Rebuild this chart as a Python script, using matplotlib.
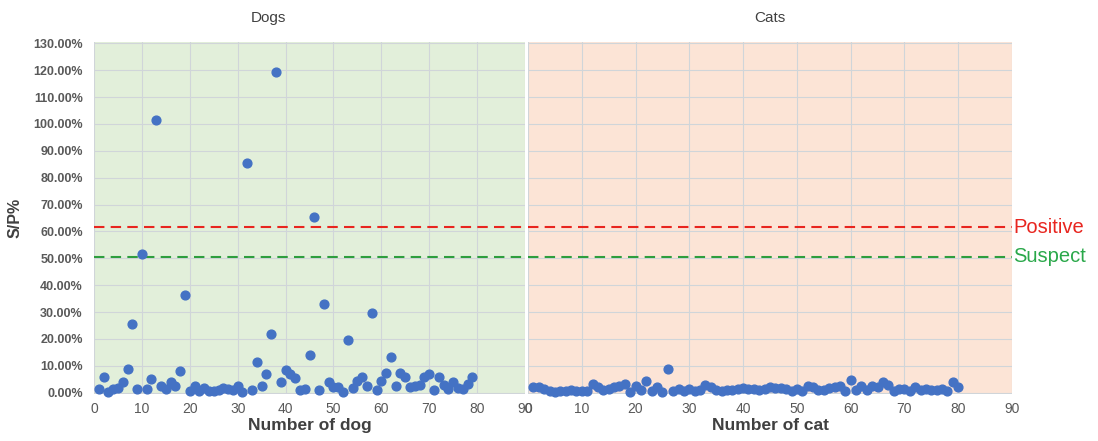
import numpy as np
import matplotlib.pyplot as plt
from matplotlib.ticker import MultipleLocator, FuncFormatter

plt.rcParams["font.family"] = ["Liberation Sans", "DejaVu Sans"]

# S/P% values
dog_values = [
    1.3, 5.8, 0.1, 1.3, 1.7, 4.0, 8.8, 25.4, 1.3, 51.5,
    1.3, 5.0, 101.5, 2.3, 1.3, 4.0, 2.5, 7.9, 36.3, 0.6,
    2.6, 0.6, 1.8, 0.6, 0.6, 1.0, 1.8, 1.3, 1.0, 2.3,
    0.1, 85.3, 1.0, 11.5, 2.3, 6.9, 21.7, 119.3, 3.8, 8.5,
    7.0, 5.4, 0.9, 1.3, 14.1, 65.5, 1.0, 33.1, 4.0, 2.0,
    2.0, 0.3, 19.6, 1.8, 4.3, 5.8, 2.3, 29.5, 1.0, 4.3,
    7.5, 13.1, 2.5, 7.3, 5.8, 2.0, 2.3, 2.8, 5.8, 7.0,
    1.0, 5.8, 2.8, 1.3, 4.0, 1.8, 1.3, 3.3, 5.8,
]
cat_values = [
    2.0, 2.0, 1.5, 0.8, 0.3, 0.5, 0.5, 1.0, 0.5, 0.8,
    0.5, 3.3, 2.0, 1.0, 1.3, 2.0, 2.5, 3.3, 0.3, 2.5,
    1.0, 4.5, 0.5, 2.0, 0.3, 8.8, 0.8, 1.5, 0.5, 1.5,
    0.8, 1.0, 3.0, 2.0, 1.0, 0.8, 1.0, 1.0, 1.5, 1.8,
    1.3, 1.3, 1.0, 1.3, 2.0, 1.8, 1.8, 1.3, 0.8, 1.5,
    0.5, 2.5, 2.0, 1.0, 1.0, 1.8, 2.0, 2.3, 0.5, 4.8,
    1.0, 2.3, 1.0, 2.5, 2.0, 4.0, 3.0, 0.8, 1.3, 1.5,
    0.8, 2.0, 1.0, 1.5, 1.0, 1.0, 1.5, 0.5, 3.8, 2.0,
]
positive_cutoff = 61.5
suspect_cutoff = 50.6

dog_ids = np.arange(1, len(dog_values) + 1)
cat_ids = np.arange(1, len(cat_values) + 1)

W, H = 1098, 441
fig = plt.figure(figsize=(W / 100, H / 100), dpi=100)

bottom = (H - 394) / H
height = (394 - 42) / H
ax_dog = fig.add_axes([94 / W, bottom, 431 / W, height])
ax_cat = fig.add_axes([528 / W, bottom, 484 / W, height])

panels = [
    (ax_dog, dog_ids, dog_values, "#e2efda", "Number of dog"),
    (ax_cat, cat_ids, cat_values, "#fce4d6", "Number of cat"),
]
for ax, ids, vals, bg, xlabel in panels:
    ax.set_facecolor(bg)
    ax.set_xlim(0, 90)
    ax.set_ylim(-0.5, 130.5)
    ax.xaxis.set_major_locator(MultipleLocator(10))
    ax.yaxis.set_major_locator(MultipleLocator(10))
    ax.grid(True, color="#d0d5d9", linewidth=0.8)
    ax.set_axisbelow(True)
    for s in ax.spines.values():
        s.set_visible(False)
    ax.tick_params(length=0, labelsize=10, labelcolor="#595959", pad=6)
    ax.axhline(positive_cutoff, color="#e8251f", linestyle=(0, (5, 3)), linewidth=1.5)
    ax.axhline(suspect_cutoff, color="#2e9e3e", linestyle=(0, (5, 3)), linewidth=1.5)
    ax.scatter(ids, vals, s=40, color="#4472c4", zorder=3, clip_on=False)
    ax.set_xlabel(xlabel, fontsize=12.5, fontweight="bold", color="#404040", labelpad=1)

ax_dog.yaxis.set_major_formatter(FuncFormatter(lambda v, p: f"{v:.2f}%"))
for lbl in ax_dog.get_yticklabels():
    lbl.set_fontweight("bold")
ax_dog.tick_params(axis="y", labelsize=9, pad=8)
ax_dog.set_ylabel("S/P%", fontsize=11.5, fontweight="bold", color="#404040", labelpad=8)
ax_cat.tick_params(axis="y", labelleft=False)

fig.text(268 / W, 1 - 18 / H, "Dogs", ha="center", va="center", fontsize=11, color="#404040")
fig.text(770 / W, 1 - 18 / H, "Cats", ha="center", va="center", fontsize=11, color="#404040")

ax_cat.text(1.003, positive_cutoff, "Positive", transform=ax_cat.get_yaxis_transform(),
            color="#e8251f", fontsize=14.5, va="center", ha="left")
ax_cat.text(1.003, suspect_cutoff, "Suspect", transform=ax_cat.get_yaxis_transform(),
            color="#2aa84a", fontsize=14.5, va="center", ha="left")

fig.savefig("out.png", dpi=100)
